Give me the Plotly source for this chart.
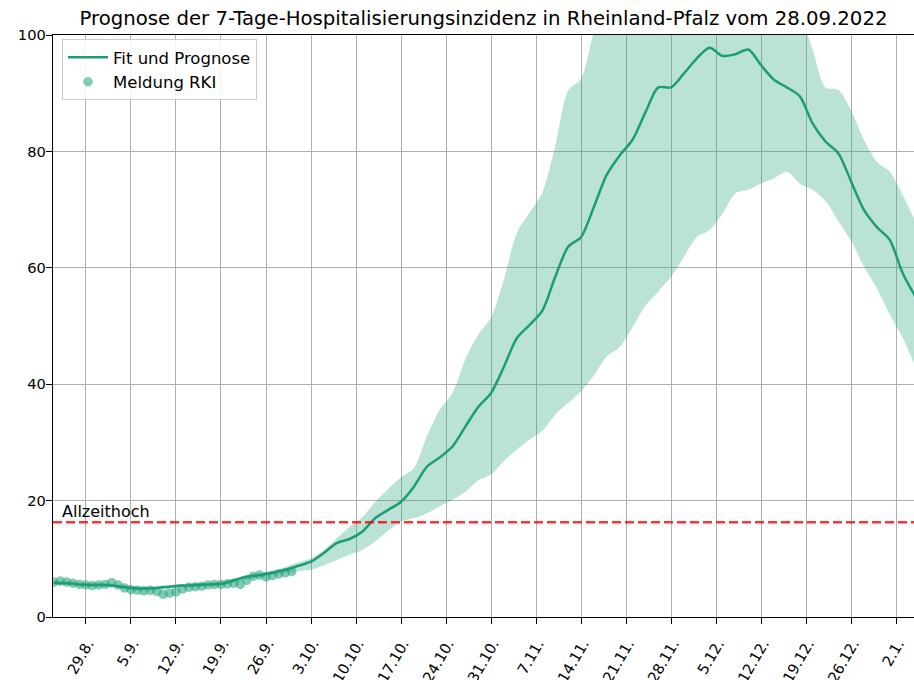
import plotly.graph_objects as go
import pandas as pd

title = "Prognose der 7-Tage-Hospitalisierungsinzidenz in Rheinland-Pfalz vom 28.09.2022"

# Fit / forecast, every 2 days starting 24.08.2022
fit_start = "2022-08-24"
fit_mid = [
    5.9, 5.8, 5.6, 5.5, 5.5, 5.3, 5.0, 4.9, 5.0, 5.2,
    5.4, 5.5, 5.6, 5.7, 6.3, 6.9, 7.2, 7.6, 8.1, 8.8,
    9.5, 11.0, 12.7, 13.4, 14.7, 17.0, 18.4, 19.8, 22.4, 25.8,
    27.4, 29.3, 32.7, 36.1, 38.5, 43.0, 47.9, 50.2, 52.7, 58.5,
    63.6, 65.3, 70.5, 76.0, 79.3, 82.0, 86.7, 91.0, 91.0, 93.4,
    96.0, 97.8, 96.4, 96.7, 97.5, 94.8, 92.3, 91.0, 89.5, 84.8,
    81.7, 79.7, 74.8, 69.9, 67.0, 64.8, 59.1, 55.0,
]
fit_upper = [
    6.2, 6.1, 5.9, 5.8, 5.8, 5.6, 5.3, 5.2, 5.3, 5.5,
    5.7, 5.8, 5.9, 6.0, 6.6, 7.2, 7.5, 8.0, 8.6, 9.4,
    10.1, 11.5, 13.5, 15.5, 17.2, 19.8, 22.0, 24.0, 25.6, 31.0,
    35.6, 38.5, 44.3, 48.5, 51.5, 58.0, 66.0, 69.5, 73.0, 81.0,
    90.5, 92.5, 100.5, 106, 110, 113, 117, 121, 123, 125,
    127, 128, 127, 126, 125, 121, 116, 111, 104, 97.5,
    91.0, 90.6, 87.0, 82.0, 78.2, 76.5, 72.5, 68.0,
]
fit_lower = [
    5.6, 5.5, 5.3, 5.2, 5.2, 5.0, 4.7, 4.6, 4.7, 4.9,
    5.1, 5.2, 5.3, 5.4, 5.9, 6.5, 6.8, 7.2, 7.6, 7.9,
    8.1, 8.9, 9.8, 10.7, 11.5, 13.0, 14.8, 16.4, 17.0, 17.8,
    19.0, 20.1, 21.5, 23.5, 24.5, 26.8, 28.8, 30.5, 32.0, 34.8,
    36.8, 38.8, 41.5, 44.8, 46.4, 49.8, 53.5, 55.9, 58.5, 61.9,
    65.3, 66.5, 69.3, 72.8, 73.4, 74.5, 75.4, 76.5, 74.5, 73.4,
    71.5, 68.0, 64.6, 60.2, 56.5, 52.0, 48.0, 43.0,
]

# RKI reports, daily starting 24.08.2022
rki_start = "2022-08-24"
rki_values = [
    6.0, 6.2, 6.0, 5.8, 5.6, 5.5, 5.4, 5.5, 5.6, 5.9,
    5.5, 5.0, 4.7, 4.6, 4.5, 4.6, 4.4, 3.9, 4.1, 4.3,
    4.8, 5.1, 5.2, 5.3, 5.5, 5.6, 5.6, 5.7, 5.8, 5.6,
    6.3, 7.0, 7.2, 6.9, 7.1, 7.4, 7.6, 7.8,
]

allzeithoch = 16.3
allzeithoch_label = "Allzeithoch"

tick_dates = [
    "2022-08-29", "2022-09-05", "2022-09-12", "2022-09-19", "2022-09-26",
    "2022-10-03", "2022-10-10", "2022-10-17", "2022-10-24", "2022-10-31",
    "2022-11-07", "2022-11-14", "2022-11-21", "2022-11-28", "2022-12-05",
    "2022-12-12", "2022-12-19", "2022-12-26", "2023-01-02",
]
tick_labels = [
    "29.8.", "5.9.", "12.9.", "19.9.", "26.9.",
    "3.10.", "10.10.", "17.10.", "24.10.", "31.10.",
    "7.11.", "14.11.", "21.11.", "28.11.", "5.12.",
    "12.12.", "19.12.", "26.12.", "2.1.",
]
y_ticks = [0, 20, 40, 60, 80, 100]

fit_dates = pd.date_range(fit_start, periods=len(fit_mid), freq="2D")
rki_dates = pd.date_range(rki_start, periods=len(rki_values), freq="D")

GREEN = "#1b9e77"
FONT = "DejaVu Sans"
FS = 16.5
TICK_FS = 14.7

fig = go.Figure()
fig.add_trace(go.Scatter(
    x=fit_dates, y=fit_upper, mode="lines",
    line=dict(width=0, shape="spline", smoothing=0.8, color=GREEN),
    showlegend=False, hoverinfo="skip",
))
fig.add_trace(go.Scatter(
    x=fit_dates, y=fit_lower, mode="lines",
    line=dict(width=0, shape="spline", smoothing=0.8, color=GREEN),
    fill="tonexty", fillcolor="rgba(27,158,119,0.3)",
    showlegend=False, hoverinfo="skip",
))
fig.add_trace(go.Scatter(
    x=fit_dates, y=fit_mid, mode="lines", name="Fit und Prognose",
    line=dict(width=2.5, shape="spline", smoothing=0.8, color=GREEN),
))
fig.add_trace(go.Scatter(
    x=rki_dates, y=rki_values, mode="markers", name="Meldung RKI",
    marker=dict(color="rgba(27,158,119,0.55)", size=9.5, line=dict(width=0)),
))

fig.add_shape(
    type="line", xref="paper", x0=0, x1=1, yref="y", y0=allzeithoch, y1=allzeithoch,
    line=dict(color="rgba(255,0,0,0.8)", width=2.5, dash="9px,4px"), layer="above",
)
fig.add_annotation(
    x="2022-08-25", y=allzeithoch, text=allzeithoch_label, showarrow=False,
    xanchor="left", yanchor="bottom", yshift=-1,
    font=dict(family=FONT, size=16, color="black"),
)

fig.update_layout(
    width=914, height=680,
    margin=dict(l=53, r=0, t=35, b=63, autoexpand=False),
    paper_bgcolor="white", plot_bgcolor="white",
    font=dict(family=FONT, size=FS, color="black"),
    title=dict(text=title, x=0.5, xref="paper", xanchor="center",
               y=1 - 18 / 680, yref="container", yanchor="middle",
               font=dict(family=FONT, size=19.7, color="black")),
    legend=dict(x=0.0105, y=0.993, xanchor="left", yanchor="top", itemwidth=40,
                bgcolor="rgba(255,255,255,0.85)", bordercolor="#cccccc", borderwidth=1,
                font=dict(family=FONT, size=FS, color="black"), traceorder="normal"),
    showlegend=True,
)
fig.update_xaxes(
    range=["2022-08-23 21:00", "2023-01-04 18:30"],
    tickmode="array", tickvals=tick_dates, ticktext=tick_labels, tickangle=-60,
    ticklabelstandoff=5, ticklabelshift=2,
    showgrid=True, gridcolor="#b0b0b0", gridwidth=1.3,
    showline=True, linecolor="black", linewidth=1.3, mirror=True,
    ticks="outside", ticklen=6, tickcolor="black", tickwidth=1.3, automargin=False,
    tickfont=dict(family=FONT, size=TICK_FS, color="black"), zeroline=False,
)
fig.update_yaxes(
    range=[0, 100], tickmode="array", tickvals=y_ticks,
    ticklabelstandoff=-3,
    showgrid=True, gridcolor="#b0b0b0", gridwidth=1.3,
    showline=True, linecolor="black", linewidth=1.3, automargin=False,
    ticks="outside", ticklen=6, tickcolor="black", tickwidth=1.3,
    tickfont=dict(family=FONT, size=TICK_FS, color="black"), zeroline=False,
)

fig.write_html(
    "out.html",
    config={"displayModeBar": False},
    post_script="document.body.style.margin='0';document.body.style.overflow='hidden';",
)
